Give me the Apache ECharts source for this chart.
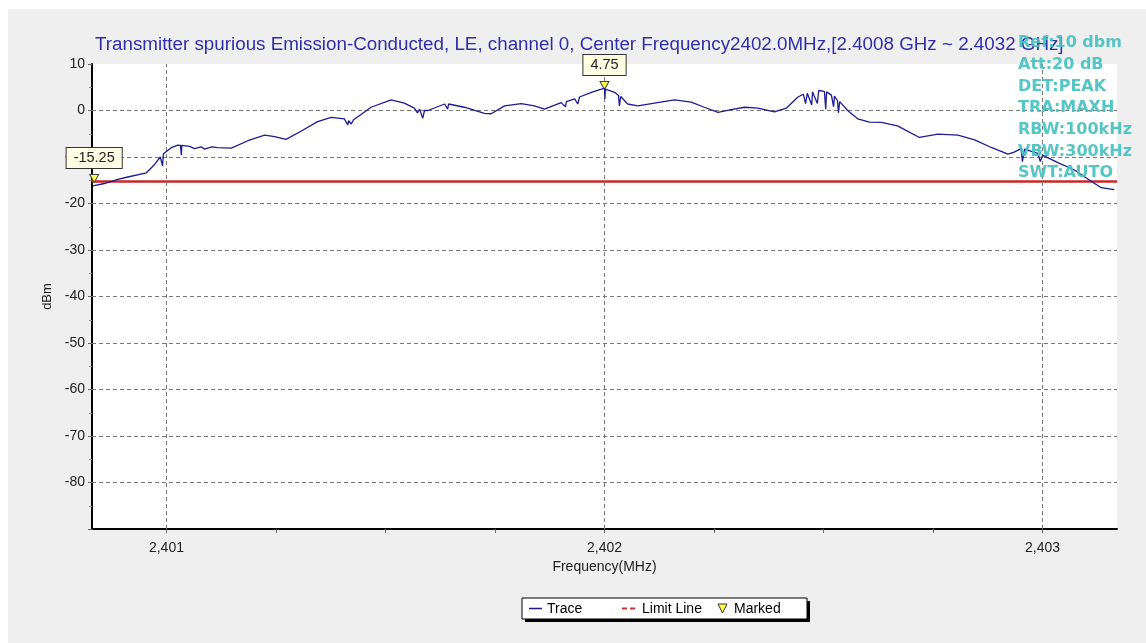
<!DOCTYPE html>
<html>
<head>
<meta charset="utf-8">
<script src="https://cdn.jsdelivr.net/npm/echarts@6/dist/echarts.min.js"></script>
<style>
html,body{margin:0;padding:0;background:#ffffff;}
#wrap{position:absolute;left:0;top:0;width:1146px;height:643px;background:#ffffff;}
#chart{position:absolute;left:8px;top:9px;width:1138px;height:634px;background:#efefef;}
</style>
</head>
<body>
<div id="wrap"><div id="chart"></div></div>
<script>
// ---- data ----
const freqMHz = [
  2400.832, 2400.858, 2400.889, 2400.912, 2400.954, 2400.973, 2400.986, 2400.991, 2400.993, 2401.011,
  2401.026, 2401.032, 2401.034, 2401.035, 2401.053, 2401.064, 2401.066, 2401.079, 2401.087, 2401.089,
  2401.103, 2401.117, 2401.148, 2401.186, 2401.224, 2401.247, 2401.273, 2401.308, 2401.345, 2401.376,
  2401.406, 2401.414, 2401.416, 2401.422, 2401.427, 2401.445, 2401.467, 2401.513, 2401.543, 2401.566,
  2401.573, 2401.578, 2401.585, 2401.589, 2401.597, 2401.635, 2401.642, 2401.644, 2401.680, 2401.726,
  2401.741, 2401.772, 2401.810, 2401.840, 2401.863, 2401.901, 2401.911, 2401.913, 2401.932, 2401.939,
  2401.943, 2401.970, 2401.989, 2402.000, 2402.001, 2402.002, 2402.023, 2402.032, 2402.034, 2402.037,
  2402.053, 2402.076, 2402.114, 2402.160, 2402.198, 2402.228, 2402.259, 2402.289, 2402.320, 2402.350,
  2402.388, 2402.415, 2402.441, 2402.454, 2402.459, 2402.463, 2402.473, 2402.475, 2402.479, 2402.486,
  2402.489, 2402.502, 2402.505, 2402.507, 2402.518, 2402.523, 2402.525, 2402.532, 2402.534, 2402.537,
  2402.555, 2402.578, 2402.605, 2402.632, 2402.669, 2402.719, 2402.761, 2402.807, 2402.845, 2402.883,
  2402.921, 2402.934, 2402.951, 2402.954, 2402.959, 2402.989, 2402.995, 2403.000, 2403.035, 2403.073,
  2403.111, 2403.134, 2403.164
];
const traceDbm = [
  -16.2, -15.7, -14.8, -14.3, -13.4, -11.6, -10.0, -11.9, -9.3, -8.0,
  -7.45, -7.5, -9.6, -7.5, -7.7, -8.2, -7.8, -7.8, -8.3, -7.9,
  -7.8, -8.0, -8.1, -6.5, -5.3, -5.6, -6.2, -4.4, -2.4, -1.5,
  -1.8, -3.1, -2.2, -2.9, -2.0, -0.8, 0.7, 2.3, 1.6, 0.5,
  -0.5, 0.3, -1.7, 0.0, 0.0, 1.4, 0.3, 1.4, 0.7, -0.6,
  -0.7, 1.0, 1.5, 1.0, 0.3, 1.7, 0.8, 1.9, 2.5, 1.4,
  2.9, 3.9, 4.5, 4.75, 2.5, 4.6, 3.9, 3.2, 1.0, 3.0,
  1.4, 1.0, 1.6, 2.3, 1.8, 0.7, -0.4, 0.2, 0.7, 0.5,
  -0.3, 0.5, 2.85, 3.5, 1.5, 3.7, 1.2, 4.0, 4.2, 1.5,
  4.3, 4.1, 0.3, 4.0, 3.3, 0.8, 3.1, 2.1, -0.5, 1.9,
  0.0, -1.8, -2.5, -2.55, -3.3, -5.8, -5.1, -5.3, -6.3, -7.95,
  -9.4, -9.0, -8.2, -11.0, -8.3, -9.2, -11.0, -9.6, -11.2, -12.8,
  -15.2, -16.6, -17.0
];
const limitFreq = [2400.83, 2403.17];
const limitDbm = [-15.25, -15.25];
const markerFreq = [2400.835, 2402.0];
const markerDbm = [-15.25, 4.75];
const xLabelValues = [2401, 2402, 2403];
const xTickValues = [2401, 2401.25, 2401.5, 2401.75, 2402, 2402.25, 2402.5, 2402.75, 2403];
const yGridValues = [0, -10, -20, -30, -40, -50, -60, -70, -80];
const titleText = 'Transmitter spurious Emission-Conducted, LE, channel 0, Center Frequency2402.0MHz,[2.4008 GHz ~ 2.4032 GHz]';
const infoLines = ['Ref:10 dbm', 'Att:20 dB', 'DET:PEAK', 'TRA:MAXH', 'RBW:100kHz', 'VBW:300kHz', 'SWT:AUTO'];
const legendNames = ['Trace', 'Limit Line', 'Marked'];

// ---- layout helpers (page coords -> chart coords) ----
const OX = 8, OY = 9;
const FONT = '"Liberation Sans", Arial, sans-serif';

const chart = echarts.init(document.getElementById('chart'), null, {renderer: 'canvas'});

const traceData = freqMHz.map((f, i) => [f, traceDbm[i]]);
const limitData = limitFreq.map((f, i) => [f, limitDbm[i]]);
const markerData = markerFreq.map((f, i) => ({coord: [f, markerDbm[i]], value: markerDbm[i].toFixed(2)}));

const graphics = [];
graphics.push({
  type: 'text', x: 95 - OX, y: 45 - OY,
  style: {text: titleText, font: '18.8px ' + FONT, fill: '#2f2fa8', verticalAlign: 'middle'}
});
infoLines.forEach((t, i) => {
  graphics.push({
    type: 'text', x: 1018 - OX, y: 43 + i * 21.7 - OY, z: 100,
    style: {text: t, font: 'bold 16px "DejaVu Sans", sans-serif', fill: 'rgba(72,192,192,0.92)', verticalAlign: 'middle'}
  });
});
// legend box
graphics.push({type: 'rect', z: 100, shape: {x: 525 - OX, y: 601 - OY, width: 285, height: 21}, style: {fill: '#000'}});
graphics.push({type: 'rect', z: 101, shape: {x: 522 - OX, y: 598 - OY, width: 285, height: 21}, style: {fill: '#fff', stroke: '#000', lineWidth: 1}});
graphics.push({type: 'line', z: 102, shape: {x1: 529 - OX, y1: 608.5 - OY, x2: 542 - OX, y2: 608.5 - OY}, style: {stroke: '#1a1a8c', lineWidth: 1.5}});
graphics.push({type: 'text', z: 102, x: 547 - OX, y: 609 - OY, style: {text: legendNames[0], font: '14px ' + FONT, fill: '#000', verticalAlign: 'middle'}});
graphics.push({type: 'line', z: 102, shape: {x1: 622 - OX, y1: 608.5 - OY, x2: 638 - OX, y2: 608.5 - OY}, style: {stroke: '#d03030', lineWidth: 2, lineDash: [5, 3]}});
graphics.push({type: 'text', z: 102, x: 642 - OX, y: 609 - OY, style: {text: legendNames[1], font: '14px ' + FONT, fill: '#000', verticalAlign: 'middle'}});
graphics.push({type: 'polygon', z: 102, shape: {points: [[718 - OX, 604 - OY], [727 - OX, 604 - OY], [722.5 - OX, 613 - OY]]}, style: {fill: '#ffff40', stroke: '#333', lineWidth: 1}});
graphics.push({type: 'text', z: 102, x: 734 - OX, y: 609 - OY, style: {text: legendNames[2], font: '14px ' + FONT, fill: '#000', verticalAlign: 'middle'}});

const option = {
  animation: false,
  backgroundColor: 'transparent',
  grid: {left: 92 - OX, top: 64 - OY, width: 1025, height: 465, show: true, backgroundColor: '#ffffff', borderWidth: 0, containLabel: false},
  xAxis: {
    type: 'value', min: 2400.83, max: 2403.17,
    name: 'Frequency(MHz)', nameLocation: 'middle', nameGap: 30,
    nameTextStyle: {fontSize: 14, color: '#222', fontFamily: FONT},
    axisLine: {show: true, onZero: false, lineStyle: {color: '#000', width: 2}},
    axisTick: {show: true, customValues: xTickValues, length: 4, lineStyle: {color: '#666'}},
    axisLabel: {customValues: xLabelValues, margin: 12, fontSize: 14, color: '#222', fontFamily: FONT,
      formatter: v => Math.round(v).toLocaleString('en-US')},
    splitLine: {show: false}
  },
  yAxis: {
    type: 'value', min: -90, max: 10, interval: 10,
    name: 'dBm', nameLocation: 'middle', nameGap: 28, nameRotate: 90,
    nameTextStyle: {fontSize: 13, color: '#222', fontFamily: FONT},
    axisLine: {show: true, onZero: false, lineStyle: {color: '#000', width: 2}},
    axisTick: {show: true, length: 4, lineStyle: {color: '#666'}},
    minorTick: {show: true, splitNumber: 2, length: 3, lineStyle: {color: '#888'}},
    axisLabel: {margin: 7, fontSize: 14, color: '#222', fontFamily: FONT, formatter: v => (v === -90 ? '' : String(v))},
    splitLine: {show: false}
  },
  graphic: graphics,
  series: [
    {
      name: 'grid', type: 'line', data: [], silent: true, z: 1,
      markLine: {
        silent: true, symbol: ['none', 'none'], label: {show: false},
        lineStyle: {color: '#777', type: [4, 3], width: 1},
        data: yGridValues.map(v => ({yAxis: v})).concat(xLabelValues.map(v => ({xAxis: v})))
      }
    },
    {
      name: 'Limit Line', type: 'line', data: limitData, symbol: 'none', z: 3,
      lineStyle: {color: '#c9282a', width: 2.5}
    },
    {
      name: 'Trace', type: 'line', data: traceData, symbol: 'none', z: 5,
      lineStyle: {color: '#1c1c96', width: 1.3},
      markPoint: {
        symbol: 'path://M0,0 L10,0 L5,9 Z', symbolSize: [9, 8], symbolOffset: [0, -3],
        itemStyle: {color: '#ffff50', borderColor: '#444', borderWidth: 1},
        label: {show: true, position: 'top', distance: 6, formatter: p => p.value,
          backgroundColor: '#ffffe4', borderColor: '#333', borderWidth: 1, padding: [3, 7, 2, 7],
          fontSize: 14.5, color: '#222', fontFamily: FONT},
        data: markerData
      }
    }
  ]
};
chart.setOption(option);
</script>
</body>
</html>
